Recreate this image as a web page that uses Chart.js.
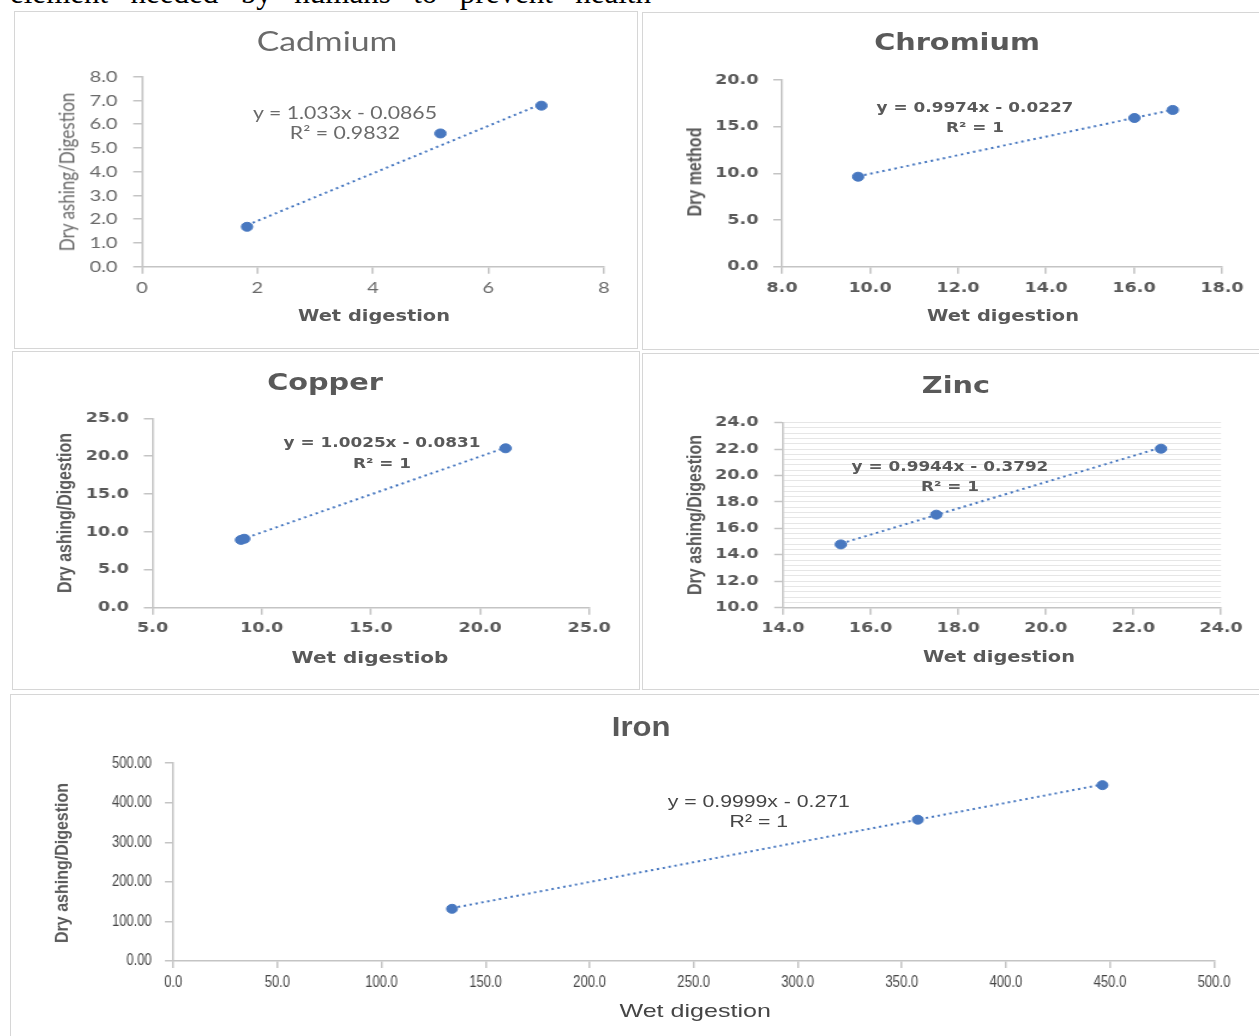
<!DOCTYPE html>
<html>
<head>
<meta charset="utf-8">
<script src="https://cdn.jsdelivr.net/npm/chart.js@4.4.1/dist/chart.umd.min.js"></script>
<style>
html, body { margin: 0; padding: 0; background: #fff; }
body { width: 1259px; height: 1036px; position: relative; overflow: hidden; }
.lead { position: absolute; left: 10px; top: -22px; width: 641px; font: 31px/30px "Liberation Serif", serif; color: #000; text-align: justify; text-align-last: justify; }
.panel { position: absolute; box-shadow: inset 0 0 0 1px #d6d6d6; }
.stage { position: absolute; left: 0; top: 0; transform-origin: 0 0; }
.stage canvas { position: absolute; left: 0; top: 0; }
.txt { position: absolute; white-space: nowrap; color: #595959; line-height: 1; }
</style>
</head>
<body>
<div class="lead">element needed by humans to prevent health</div>

<script>
// Cadmium
const cdWet = [1.82, 5.17, 6.92];
const cdDry = [1.68, 5.61, 6.78];
const cdFitWet = [1.82, 6.92];
const cdFitDry = [1.75, 6.85];
const cdXTicks = [0, 2, 4, 6, 8];
const cdYTicks = [0, 1, 2, 3, 4, 5, 6, 7, 8];
const cdEq = ['y = 1.033x - 0.0865', 'R² = 0.9832'];

// Chromium
const crWet = [9.73, 16.01, 16.88];
const crDry = [9.64, 15.93, 16.79];
const crFitWet = [9.73, 16.88];
const crFitDry = [9.68, 16.81];
const crXTicks = [8, 10, 12, 14, 16, 18];
const crYTicks = [0, 5, 10, 15, 20];
const crEq = ['y = 0.9974x - 0.0227', 'R² = 1'];

// Copper
const cuWet = [9.05, 9.2, 21.17];
const cuDry = [8.95, 9.1, 21.04];
const cuFitWet = [9.05, 21.17];
const cuFitDry = [8.99, 21.13];
const cuXTicks = [5, 10, 15, 20, 25];
const cuYTicks = [0, 5, 10, 15, 20, 25];
const cuEq = ['y = 1.0025x - 0.0831', 'R² = 1'];

// Zinc
const znWet = [15.32, 17.50, 22.63];
const znDry = [14.79, 17.04, 22.03];
const znFitWet = [15.32, 22.63];
const znFitDry = [14.85, 22.12];
const znXTicks = [14, 16, 18, 20, 22, 24];
const znYTicks = [10, 12, 14, 16, 18, 20, 22, 24];
const znEq = ['y = 0.9944x - 0.3792', 'R² = 1'];

// Iron
const feWet = [133.9, 357.7, 446.4];
const feDry = [131.9, 357.1, 444.5];
const feFitWet = [133.9, 446.4];
const feFitDry = [133.6, 446.1];
const feXTicks = [0, 50, 100, 150, 200, 250, 300, 350, 400, 450, 500];
const feYTicks = [0, 100, 200, 300, 400, 500];
const feEq = ['y = 0.9999x - 0.271', 'R² = 1'];

const BLUE = '#4878c0';
const AXIS = '#c4c4c4';
const GREY = '#595959';

function pairs(xs, ys) {
    return xs.map((x, i) => ({ x: x, y: ys[i] }));
}

// tick labels squeezed horizontally (the iron chart uses a narrow face)
const squeezeTicks = {
    id: 'squeezeTicks',
    afterDraw(chart, args, o) {
        if (!o || !o.factor) return;
        const ctx = chart.ctx;
        const xs = chart.scales.x, ys = chart.scales.y;
        ctx.save();
        ctx.font = o.font;
        ctx.fillStyle = o.color;
        ctx.textBaseline = 'middle';
        ctx.textAlign = 'center';
        xs.ticks.forEach(t => {
            ctx.save();
            ctx.translate(xs.getPixelForValue(t.value), xs.top + o.xOff);
            ctx.scale(o.factor, 1);
            ctx.fillText(t.value.toFixed(o.xDec), 0, 0);
            ctx.restore();
        });
        ctx.textAlign = 'right';
        ys.ticks.forEach(t => {
            ctx.save();
            ctx.translate(ys.right - o.yOff, ys.getPixelForValue(t.value));
            ctx.scale(o.factor, 1);
            ctx.fillText(t.value.toFixed(o.yDec), 0, 0);
            ctx.restore();
        });
        ctx.restore();
    }
};

function buildPanel(p) {
    const [L, T, R, B] = p.rect;
    const [l, t, r, b] = p.plot;
    const sx = p.sx;
    const w = Math.round((R - L) / sx);
    const h = B - T;

    const panel = document.createElement('div');
    panel.className = 'panel';
    panel.style.cssText = `left:${L}px;top:${T}px;width:${R - L}px;height:${h}px;`;
    const stage = document.createElement('div');
    stage.className = 'stage';
    stage.style.cssText = `width:${w}px;height:${h}px;transform:scaleX(${sx});`;
    panel.appendChild(stage);
    document.body.appendChild(panel);

    const canvas = document.createElement('canvas');
    canvas.width = w;
    canvas.height = h;
    stage.appendChild(canvas);

    // plain texts: titles, axis titles, trendline equation
    p.texts.forEach(tx => {
        const d = document.createElement('div');
        d.className = 'txt';
        d.textContent = tx.text;
        d.style.left = ((tx.x - L) / sx) + 'px';
        d.style.top = (tx.y - T) + 'px';
        d.style.font = tx.font;
        if (tx.ls) d.style.letterSpacing = tx.ls + 'px';
        let tr = 'translate(-50%, -50%)';
        if (tx.rot) tr += ' rotate(-90deg)';
        if (tx.sxt) tr += ` scaleX(${tx.sxt})`;
        d.style.transform = tr;
        if (tx.color) d.style.color = tx.color;
        stage.appendChild(d);
    });

    const wy = 70, hx = 40, tl = 7;
    const yPad = p.yGap / sx - tl;
    const xPad = p.xGap - tl - p.tickSize * 0.6;
    const squeeze = p.squeeze || 0;

    new Chart(canvas.getContext('2d'), {
        type: 'scatter',
        data: {
            datasets: [
                {
                    data: pairs(p.fitX, p.fitY),
                    showLine: true,
                    borderColor: BLUE,
                    borderWidth: 2,
                    borderDash: [2, 3],
                    pointRadius: 0,
                    fill: false,
                    order: 2
                },
                {
                    data: pairs(p.wet, p.dry),
                    backgroundColor: BLUE,
                    borderColor: BLUE,
                    pointRadius: 4.5,
                    order: 1
                }
            ]
        },
        plugins: [squeezeTicks],
        options: {
            responsive: false,
            animation: false,
            layout: { padding: { left: (l - L) / sx - wy, right: (R - r) / sx, top: t - T, bottom: B - b - hx } },
            plugins: {
                legend: { display: false },
                tooltip: { enabled: false },
                squeezeTicks: squeeze ? {
                    factor: squeeze,
                    font: `${p.tickSize}px "Liberation Sans", sans-serif`,
                    color: p.tickColor || GREY,
                    xOff: p.xGap, yOff: p.yGap / sx,
                    xDec: p.xDec, yDec: p.yDec
                } : {}
            },
            scales: {
                x: {
                    type: 'linear',
                    min: p.xTicks[0],
                    max: p.xTicks[p.xTicks.length - 1],
                    afterBuildTicks: s => { s.ticks = p.xTicks.map(v => ({ value: v })); },
                    afterFit: s => { s.height = hx; },
                    grid: { drawOnChartArea: false, tickLength: tl, color: AXIS, lineWidth: 1.5 },
                    border: { color: AXIS, width: 1.5 },
                    ticks: {
                        display: !squeeze,
                        autoSkip: false, maxRotation: 0, padding: xPad,
                        color: p.tickColor || GREY,
                        font: { family: p.tickFamily, size: p.tickSize, weight: p.tickWeight },
                        callback: v => v.toFixed(p.xDec)
                    }
                },
                y: {
                    type: 'linear',
                    min: p.yTicks[0],
                    max: p.yTicks[p.yTicks.length - 1],
                    afterBuildTicks: s => {
                        const out = [];
                        p.yTicks.forEach((v, i) => {
                            out.push({ value: v, major: true });
                            if (p.yMinor && i < p.yTicks.length - 1) {
                                const step = (p.yTicks[i + 1] - v) / p.yMinor;
                                for (let k = 1; k < p.yMinor; k++) out.push({ value: v + k * step, major: false });
                            }
                        });
                        s.ticks = out;
                    },
                    afterFit: s => { s.width = wy; },
                    grid: {
                        drawOnChartArea: !!p.yMinor,
                        tickLength: tl,
                        lineWidth: p.yMinor ? 1 : 1.5,
                        color: p.yMinor ? '#e6e6e6' : AXIS,
                        tickColor: ctx => (ctx.tick && ctx.tick.major === false ? 'rgba(0,0,0,0)' : AXIS),
                        tickWidth: 1.5
                    },
                    border: { color: AXIS, width: 1.5 },
                    ticks: {
                        display: !squeeze,
                        autoSkip: false, padding: yPad,
                        color: p.tickColor || GREY,
                        font: { family: p.tickFamily, size: p.tickSize, weight: p.tickWeight },
                        callback: function (v, i, ticks) {
                            if (ticks[i].major === false) return '';
                            return v.toFixed(p.yDec);
                        }
                    }
                }
            }
        }
    });
}

const EQ_BOLD = 'bold 13.5px "DejaVu Sans", sans-serif';
const TITLE_BOLD = 'bold 23px "DejaVu Sans", sans-serif';
const XT_BOLD = 'bold 15.5px "DejaVu Sans", sans-serif';
const YT_BOLD = 'bold 16px "Liberation Sans", sans-serif';
const CD_GREY = '#6a6a6a';

const panels = [
    {
        rect: [14, 11, 638, 349], plot: [142, 76.7, 604, 266.7], sx: 1.25,
        wet: cdWet, dry: cdDry, fitX: cdFitWet, fitY: cdFitDry,
        xTicks: cdXTicks, yTicks: cdYTicks, xDec: 0, yDec: 1,
        tickFamily: 'Lato', tickSize: 16, tickWeight: 'normal', tickColor: CD_GREY,
        yGap: 24.4, xGap: 21.3,
        texts: [
            { text: 'Cadmium', x: 327, y: 40, font: '27px Lato, sans-serif', color: CD_GREY },
            { text: 'Wet digestion', x: 374, y: 316, font: XT_BOLD },
            { text: 'Dry ashing/Digestion', x: 67, y: 172, font: '17px Lato, sans-serif', rot: true, color: CD_GREY },
            { text: cdEq[0], x: 345, y: 112, font: '17px Lato, sans-serif', color: CD_GREY },
            { text: cdEq[1], x: 345, y: 132, font: '17px Lato, sans-serif', color: CD_GREY }
        ]
    },
    {
        rect: [642, 12, 1262, 350], plot: [782, 80, 1222, 266.7], sx: 1.25,
        wet: crWet, dry: crDry, fitX: crFitWet, fitY: crFitDry,
        xTicks: crXTicks, yTicks: crYTicks, xDec: 1, yDec: 1,
        tickFamily: 'DejaVu Sans', tickSize: 14, tickWeight: 'bold',
        yGap: 23.6, xGap: 21.3,
        texts: [
            { text: 'Chromium', x: 957, y: 42, font: TITLE_BOLD },
            { text: 'Wet digestion', x: 1003, y: 316, font: XT_BOLD },
            { text: 'Dry method', x: 695, y: 172, font: YT_BOLD, rot: true },
            { text: crEq[0], x: 975, y: 107, font: EQ_BOLD },
            { text: crEq[1], x: 975, y: 127, font: EQ_BOLD }
        ]
    },
    {
        rect: [12, 351, 640, 690], plot: [152.6, 418.3, 589.7, 607.7], sx: 1.25,
        wet: cuWet, dry: cuDry, fitX: cuFitWet, fitY: cuFitDry,
        xTicks: cuXTicks, yTicks: cuYTicks, xDec: 1, yDec: 1,
        tickFamily: 'DejaVu Sans', tickSize: 14, tickWeight: 'bold',
        yGap: 23.6, xGap: 20.3,
        texts: [
            { text: 'Copper', x: 325, y: 382, font: TITLE_BOLD },
            { text: 'Wet  digestiob', x: 370, y: 657, font: 'bold 16px "DejaVu Sans", sans-serif' },
            { text: 'Dry ashing/Digestion', x: 64, y: 513, font: YT_BOLD, rot: true },
            { text: cuEq[0], x: 382, y: 442, font: EQ_BOLD },
            { text: cuEq[1], x: 382, y: 463, font: EQ_BOLD }
        ]
    },
    {
        rect: [642, 353, 1262, 690], plot: [783, 422.7, 1221, 607.7], sx: 1.25,
        wet: znWet, dry: znDry, fitX: znFitWet, fitY: znFitDry,
        xTicks: znXTicks, yTicks: znYTicks, xDec: 1, yDec: 1, yMinor: 5,
        tickFamily: 'DejaVu Sans', tickSize: 14, tickWeight: 'bold',
        yGap: 24.6, xGap: 20.6,
        texts: [
            { text: 'Zinc', x: 956, y: 385, font: TITLE_BOLD },
            { text: 'Wet digestion', x: 999, y: 657, font: XT_BOLD },
            { text: 'Dry ashing/Digestion', x: 695, y: 515, font: YT_BOLD, rot: true },
            { text: znEq[0], x: 950, y: 466, font: EQ_BOLD },
            { text: znEq[1], x: 950, y: 486, font: EQ_BOLD }
        ]
    },
    {
        rect: [10, 694, 1262, 1040], plot: [173.3, 763.2, 1214.4, 961], sx: 1.2,
        wet: feWet, dry: feDry, fitX: feFitWet, fitY: feFitDry,
        xTicks: feXTicks, yTicks: feYTicks, xDec: 1, yDec: 2,
        tickFamily: 'Liberation Sans', tickSize: 16, tickWeight: 'normal', tickColor: '#454545',
        squeeze: 0.68,
        yGap: 21.5, xGap: 21.7,
        texts: [
            { text: 'Iron', x: 641, y: 727, font: 'bold 27px "Liberation Sans", sans-serif', sxt: 0.96 },
            { text: 'Wet digestion', x: 695, y: 1011, font: '19px "Liberation Sans", sans-serif', color: '#454545', sxt: 1.1 },
            { text: 'Dry ashing/Digestion', x: 62, y: 863, font: YT_BOLD, rot: true },
            { text: feEq[0], x: 759, y: 802, font: '17px "Liberation Sans", sans-serif', color: '#454545', sxt: 1.04 },
            { text: feEq[1], x: 759, y: 822, font: '17px "Liberation Sans", sans-serif', color: '#454545', sxt: 1.04 }
        ]
    }
];

panels.forEach(buildPanel);
</script>
</body>
</html>
